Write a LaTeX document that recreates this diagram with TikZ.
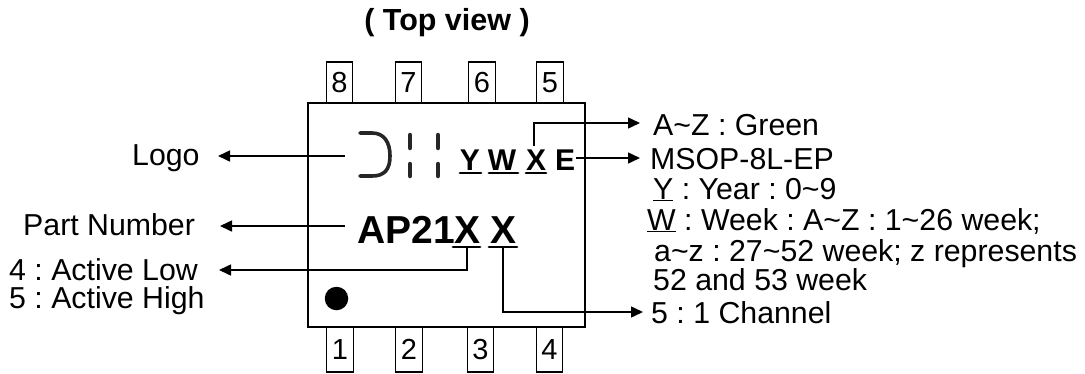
\documentclass[tikz,border=0pt]{standalone}
\usepackage{fontspec}
\setmainfont{Liberation Sans}
\frenchspacing
\usetikzlibrary{arrows.meta}
\tikzstyle{leadbox} = [rectangle, draw=black, line width=1.1pt, inner sep=0pt,
minimum width=26.5pt, font=\fontsize{29}{29}\selectfont, text centered]
\tikzstyle{topbox} = [leadbox, minimum height=41pt]
\tikzstyle{botbox} = [leadbox, minimum height=45pt]
\tikzstyle{note} = [inner sep=0pt, font=\fontsize{30.3}{30.3}\selectfont, anchor=base west]
\tikzstyle{marktext} = [inner sep=0pt, font=\fontsize{30}{30}\selectfont\bfseries, anchor=base]
\tikzstyle{parttext} = [inner sep=0pt, font=\fontsize{39}{39}\selectfont\bfseries, anchor=base west]
\tikzstyle{arrow} = [line width=1.5pt,-{Triangle[length=12pt,width=11pt]}]
\tikzstyle{logobar} = [line width=4.5pt, line cap=round, black!85]
\tikzstyle{ulbar} = [line width=2.8pt, line cap=round]

\begin{document}
\begin{tikzpicture}[x=1pt,y=-1pt]
    \useasboundingbox (0,0) rectangle (1085,373);

    \node (title) [inner sep=0pt, font=\fontsize{30.5}{30.5}\selectfont\bfseries, anchor=base] at (447,30) {( Top view )};

    % pins
    \node (pin8) [topbox] at (339.5,82.5) {8};
    \node (pin7) [topbox] at (408.5,82.5) {7};
    \node (pin6) [topbox] at (482,82.5) {6};
    \node (pin5) [topbox] at (550,82.5) {5};
    \node (pin1) [botbox] at (340,349.5) {1};
    \node (pin2) [botbox] at (409,349.5) {2};
    \node (pin3) [botbox] at (480.5,349.5) {3};
    \node (pin4) [botbox] at (549.5,349.5) {4};
    \node (chip) [draw=black, line width=1.1pt, fill=white, minimum width=277pt, minimum height=224pt, inner sep=0pt] at (446.5,215) {};

    % logo
    \draw [line width=3.6pt, black!85, line cap=round] (360,133) -- (372,133) .. controls (384,133) and (390,142) .. (390,156) .. controls (390,170) and (384,176) .. (372,176) -- (360,176);
    \draw [logobar] (410,135) -- (410,148);
    \draw [logobar] (410,164) -- (410,176);
    \draw [logobar] (438,135) -- (438,148);
    \draw [logobar] (438,164) -- (438,176);

    % marking
    \node (markY) [marktext] at (470,170) {Y};
    \node (markW) [marktext] at (502,170) {W};
    \node (markX) [marktext] at (536,170) {X};
    \node (markE) [marktext] at (565,170) {E};
    \node (partno) [parttext] at (357,243) {AP21X};
    \node (partx) [parttext] at (490,243) {X};
    \draw [ulbar] (460,173) -- (481,173);
    \draw [ulbar] (489,173) -- (518,173);
    \draw [ulbar] (526,173) -- (546,173);
    \draw [ulbar] (453,247) -- (480,247);
    \draw [ulbar] (489,247) -- (517,247);
    \node (dot) [circle, fill=black, minimum size=23.5pt, inner sep=0pt] at (336.5,298.5) {};

    % labels
    \node (logo) [note] at (132,165) {Logo};
    \node (part) [note] at (23,235) {Part Number};
    \node (low) [note] at (9,280) {4 : Active Low};
    \node (high) [note] at (9,308) {5 : Active High};
    \node (green) [note] at (653,135) {A\textasciitilde Z : Green};
    \node (msop) [note] at (650,169) {MSOP-8L-EP};
    \node (year) [note] at (653,199) {\underline{Y} : Year : 0\textasciitilde 9};
    \node (week) [note] at (647,230) {\underline{W} : Week : A\textasciitilde Z : 1\textasciitilde 26 week;};
    \node (week2) [note] at (654,261) {a\textasciitilde z : 27\textasciitilde 52 week; z represents};
    \node (week3) [note] at (653,290) {52 and 53 week};
    \node (chan) [note] at (651,323) {5 : 1 Channel};

    \coordinate (logoend) at (345,156);
    \coordinate (logotip) at (218,156);
    \coordinate (partend) at (345,226);
    \coordinate (parttip) at (220,226);
    \coordinate (lowend) at (467,248);
    \coordinate (lowtip) at (219,270);
    \coordinate (chanend) at (503,248);
    \coordinate (chantip) at (643,312);
    \coordinate (greenend) at (534,146);
    \coordinate (greentip) at (640,123);
    \coordinate (msopend) at (576,158);
    \coordinate (msoptip) at (640,158);

    \draw [arrow] (logoend) -- (logotip);
    \draw [arrow] (partend) -- (parttip);
    \draw [arrow] (lowend) |- (lowtip);
    \draw [arrow] (chanend) |- (chantip);
    \draw [arrow] (greenend) |- (greentip);
    \draw [arrow] (msopend) -- (msoptip);
\end{tikzpicture}
\end{document}
